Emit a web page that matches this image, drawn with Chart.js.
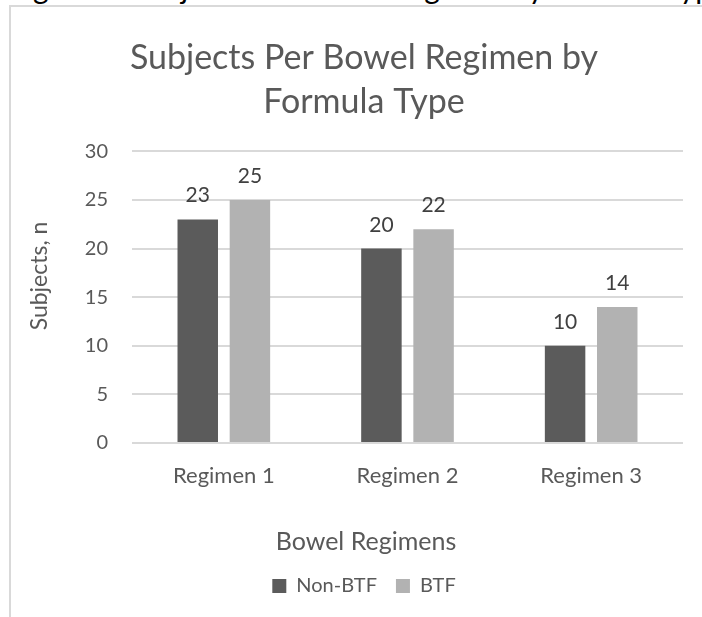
<!DOCTYPE html>
<html>
<head>
<meta charset="utf-8">
<script src="https://cdn.jsdelivr.net/npm/chart.js@4.4.1/dist/chart.umd.min.js"></script>
<style>
  html, body { margin: 0; padding: 0; background: #ffffff; }
  body { width: 702px; height: 617px; overflow: hidden; position: relative; }
  #caption {
    position: absolute; left: 9px; top: -28px; white-space: nowrap;
    font-family: Lato, sans-serif; font-size: 30px; line-height: 30px; color: #000000;
  }
  #frame {
    position: absolute; left: 9px; top: 5px; width: 716px; height: 640px;
    border: 2px solid #d9d9d9; box-sizing: border-box; background: #ffffff;
  }
  #wrap { position: absolute; left: 11px; top: 7px; width: 706px; height: 610px; }
</style>
</head>
<body>
<div id="caption">Figure 2. Subjects Per Bowel Regimen by Formula Type</div>
<div id="frame"></div>
<div id="wrap"><canvas id="chart" width="706" height="610"></canvas></div>
<script>
// Bowel regimen counts by formula type
const categories = ['Regimen 1', 'Regimen 2', 'Regimen 3'];
const seriesNames = ['Non-BTF', 'BTF'];
const nonBtfSubjects = [23, 20, 10];
const btfSubjects = [25, 22, 14];
const yMin = 0;
const yMax = 30;
const yStep = 5;

const chartTitle = ['Subjects Per Bowel Regimen by', 'Formula Type'];
const xAxisTitle = 'Bowel Regimens';
const yAxisTitle = 'Subjects, n';

const FONT = 'Lato, "Open Sans", sans-serif';
const TEXT = '#595959';

// Value labels above each bar, taken from the bar elements themselves
const valueLabels = {
  id: 'valueLabels',
  afterDatasetsDraw(chart) {
    const ctx = chart.ctx;
    ctx.save();
    ctx.font = '21px ' + FONT;
    ctx.fillStyle = '#404040';
    ctx.textAlign = 'center';
    ctx.textBaseline = 'alphabetic';
    chart.data.datasets.forEach((ds, i) => {
      const meta = chart.getDatasetMeta(i);
      meta.data.forEach((bar, j) => {
        ctx.fillText(String(ds.data[j]), bar.x, bar.y - 17);
      });
    });
    ctx.restore();
  }
};

// Axis titles, centred on the whole chart box
const axisTitles = {
  id: 'axisTitles',
  afterDraw(chart) {
    const ctx = chart.ctx;
    ctx.save();
    ctx.fillStyle = TEXT;
    ctx.textAlign = 'center';
    ctx.textBaseline = 'middle';
    ctx.font = '25px ' + FONT;
    ctx.fillText(xAxisTitle, chart.width / 2 + 2, 535);
    ctx.translate(29, 269);
    ctx.rotate(-Math.PI / 2);
    ctx.font = '23px ' + FONT;
    ctx.fillText(yAxisTitle, 0, 0);
    ctx.restore();
  }
};

new Chart(document.getElementById('chart'), {
  type: 'bar',
  data: {
    labels: categories,
    datasets: [
      { label: seriesNames[0], data: nonBtfSubjects, backgroundColor: '#5b5b5b',
        categoryPercentage: 0.568, barPercentage: 0.776 },
      { label: seriesNames[1], data: btfSubjects, backgroundColor: '#b2b2b2',
        categoryPercentage: 0.568, barPercentage: 0.776 }
    ]
  },
  options: {
    responsive: false,
    animation: false,
    events: [],
    layout: { padding: { left: 0, right: 0, top: 0, bottom: 11 } },
    plugins: {
      title: {
        display: true,
        text: chartTitle,
        color: TEXT,
        font: { family: FONT, size: 34, weight: 'normal', lineHeight: 1.3 },
        padding: { top: 29, bottom: 27 }
      },
      legend: {
        position: 'bottom',
        labels: {
          color: TEXT,
          font: { family: FONT, size: 20 },
          boxWidth: 14,
          boxHeight: 14,
          padding: 19
        }
      },
      tooltip: { enabled: false }
    },
    scales: {
      x: {
        grid: { display: false, drawTicks: false },
        border: { display: false },
        ticks: { color: TEXT, font: { family: FONT, size: 22 }, padding: 20 },
        afterFit(scale) { scale.height = 114; }
      },
      y: {
        min: yMin,
        max: yMax,
        ticks: { stepSize: yStep, color: TEXT, font: { family: FONT, size: 20 }, padding: 24 },
        grid: { color: '#d9d9d9', lineWidth: 2, drawTicks: false },
        border: { display: false },
        afterFit(scale) { scale.width = 121; }
      },
      // empty margin on the right of the plot
      yRight: {
        position: 'right',
        display: true,
        min: yMin,
        max: yMax,
        ticks: { display: false },
        grid: { display: false, drawTicks: false },
        border: { display: false },
        afterFit(scale) { scale.width = 34; }
      }
    }
  },
  plugins: [valueLabels, axisTitles]
});
</script>
</body>
</html>
